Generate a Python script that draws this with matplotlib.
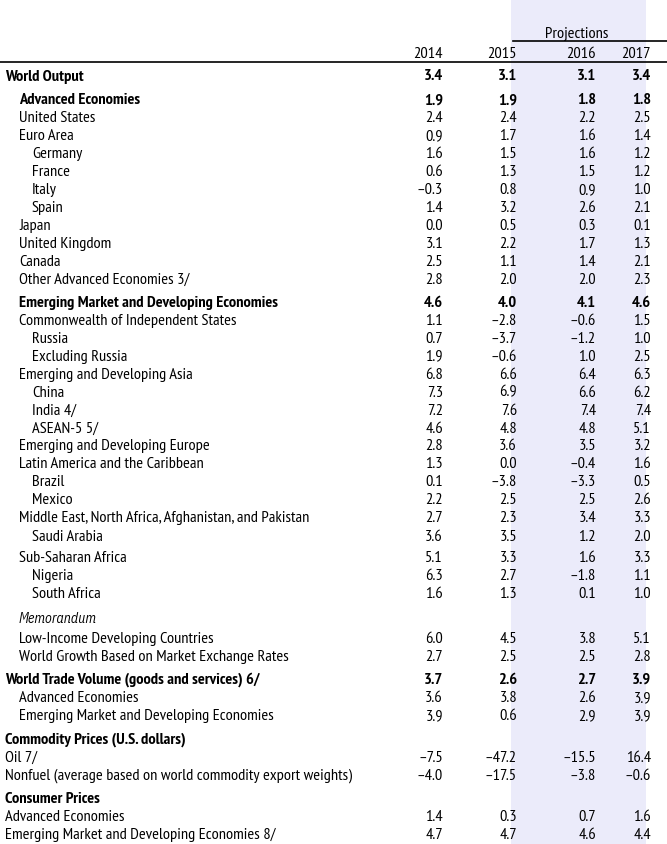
import matplotlib.pyplot as plt
from matplotlib import font_manager

# Table data
years = ["2014", "2015", "2016", "2017"]

labels = [
    "World Output", "Advanced Economies", "United States", "Euro Area", "Germany",
    "France", "Italy", "Spain", "Japan", "United Kingdom", "Canada",
    "Other Advanced Economies 3/",
    "Emerging Market and Developing Economies", "Commonwealth of Independent States",
    "Russia", "Excluding Russia", "Emerging and Developing Asia", "China", "India 4/",
    "ASEAN-5 5/", "Emerging and Developing Europe", "Latin America and the Caribbean",
    "Brazil", "Mexico", "Middle East, North Africa, Afghanistan, and Pakistan",
    "Saudi Arabia", "Sub-Saharan Africa", "Nigeria", "South Africa",
    "Memorandum", "Low-Income Developing Countries",
    "World Growth Based on Market Exchange Rates",
    "World Trade Volume (goods and services) 6/", "Advanced Economies",
    "Emerging Market and Developing Economies",
    "Commodity Prices (U.S. dollars)", "Oil 7/",
    "Nonfuel (average based on world commodity export weights)",
    "Consumer Prices", "Advanced Economies",
    "Emerging Market and Developing Economies 8/",
]

indent = [0, 1, 1, 1, 2, 2, 2, 2, 1, 1, 1, 1,
          1, 1, 2, 2, 1, 2, 2, 2, 1, 1, 2, 2, 1, 2, 1, 2, 2,
          1, 1, 1,
          0, 1, 1,
          0, 0, 0,
          0, 0, 0]

bold_rows = {0, 1, 12, 32, 35, 38}
italic_rows = {29}

v2014 = [3.4, 1.9, 2.4, 0.9, 1.6, 0.6, -0.3, 1.4, 0.0, 3.1, 2.5, 2.8,
         4.6, 1.1, 0.7, 1.9, 6.8, 7.3, 7.2, 4.6, 2.8, 1.3, 0.1, 2.2, 2.7, 3.6, 5.1, 6.3, 1.6,
         None, 6.0, 2.7, 3.7, 3.6, 3.9, None, -7.5, -4.0, None, 1.4, 4.7]
v2015 = [3.1, 1.9, 2.4, 1.7, 1.5, 1.3, 0.8, 3.2, 0.5, 2.2, 1.1, 2.0,
         4.0, -2.8, -3.7, -0.6, 6.6, 6.9, 7.6, 4.8, 3.6, 0.0, -3.8, 2.5, 2.3, 3.5, 3.3, 2.7, 1.3,
         None, 4.5, 2.5, 2.6, 3.8, 0.6, None, -47.2, -17.5, None, 0.3, 4.7]
v2016 = [3.1, 1.8, 2.2, 1.6, 1.6, 1.5, 0.9, 2.6, 0.3, 1.7, 1.4, 2.0,
         4.1, -0.6, -1.2, 1.0, 6.4, 6.6, 7.4, 4.8, 3.5, -0.4, -3.3, 2.5, 3.4, 1.2, 1.6, -1.8, 0.1,
         None, 3.8, 2.5, 2.7, 2.6, 2.9, None, -15.5, -3.8, None, 0.7, 4.6]
v2017 = [3.4, 1.8, 2.5, 1.4, 1.2, 1.2, 1.0, 2.1, 0.1, 1.3, 2.1, 2.3,
         4.6, 1.5, 1.0, 2.5, 6.3, 6.2, 7.4, 5.1, 3.2, 1.6, 0.5, 2.6, 3.3, 2.0, 3.3, 1.1, 1.0,
         None, 5.1, 2.8, 3.9, 3.9, 3.9, None, 16.4, -0.6, None, 1.6, 4.4]

# Layout
W, H = 667, 845
row_step = 17.95
extra_gap = {1: 6, 12: 5, 25: 1, 26: 3, 29: 7, 30: 2, 32: 5, 35: 6, 38: 5}
col_right = [443, 517, 596, 651]
indent_x = [5, 19, 32]
dy = 1.5  # nudge text down a little to sit like the reference

# pick a narrow font that also has a real bold face
entries = font_manager.fontManager.ttflist
candidates = ["Liberation Sans Narrow", "Arial Narrow", "PT Sans Narrow",
              "IBM Plex Sans Condensed", "Fira Sans Condensed", "Roboto Condensed",
              "Asap Condensed", "Encode Sans Condensed", "Barlow Semi Condensed",
              "Archivo Narrow"]


def wt(f):
    return f.weight if isinstance(f.weight, int) else (700 if f.weight == 'bold' else 400)


def has_bold(name):
    w = [wt(f) for f in entries if f.name == name and f.style == 'normal']
    return any(x >= 600 for x in w) and any(x <= 500 for x in w)


def has_italic(name):
    return any(f.name == name and f.style == 'italic' and 300 <= wt(f) <= 500
               for f in entries)


font = next((c for c in candidates if has_bold(c)), "Liberation Sans")
plt.rcParams['font.family'] = [font, 'DejaVu Sans']
ital_font = next((c for c in [font] + candidates + ["PT Sans", "Liberation Sans"]
                  if has_italic(c)), font)

fig = plt.figure(figsize=(W / 100, H / 100), dpi=100)
ax = fig.add_axes([0, 0, 1, 1])
ax.set_xlim(0, W)
ax.set_ylim(H, 0)
ax.axis('off')

# scale font so the widest label matches the reference width (~345 px)
probe = ax.text(5, 400, labels[37], fontsize=10)
probe_i = ax.text(5, 400, labels[29], fontsize=10, family=[ital_font, 'DejaVu Sans'],
                  fontstyle='italic')
fig.canvas.draw()
pw = probe.get_window_extent().width
pwi = probe_i.get_window_extent().width
probe.remove()
probe_i.remove()
fs = 10 * 345.0 / pw
fs_i = max(min(fs, 10 * 61.0 / pwi), 0.85 * fs)  # "Memorandum" ~61 px wide

# projection shading
ax.axvspan(511, 646, color='#ebebfa', lw=0, zorder=0)

ax.text(577, 32 + dy, "Projections", ha='center', va='center', fontsize=fs)
ax.plot([513, W], [42, 42], color='black', lw=1.2)
for yr, xr in zip(years, col_right):
    ax.text(xr, 52 + dy, yr, ha='right', va='center', fontsize=fs)
ax.plot([0, W], [63, 63], color='black', lw=1.2)


def fmt(v):
    if v is None:
        return ""
    s = f"{abs(v):.1f}"
    return ("\u2013" + s) if v < 0 else s


y = 75.0 + dy
for i, lab in enumerate(labels):
    y += extra_gap.get(i, 0)
    weight = 'bold' if i in bold_rows else 'normal'
    if i in italic_rows:
        ax.text(indent_x[indent[i]], y, lab, ha='left', va='center', fontsize=fs_i,
                family=[ital_font, 'DejaVu Sans'], fontstyle='italic')
    else:
        ax.text(indent_x[indent[i]], y, lab, ha='left', va='center', fontsize=fs,
                fontweight=weight)
    for vals, xr in zip([v2014, v2015, v2016, v2017], col_right):
        ax.text(xr, y, fmt(vals[i]), ha='right', va='center', fontsize=fs,
                fontweight=weight)
    y += row_step

fig.savefig("out.png", dpi=100)
